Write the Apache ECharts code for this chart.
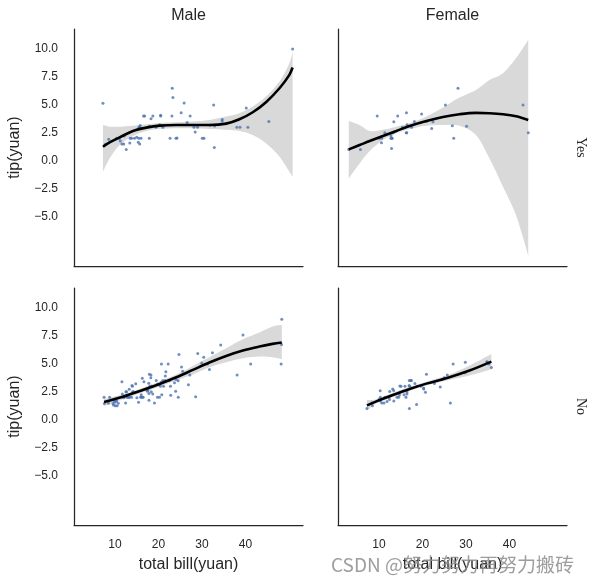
<!DOCTYPE html>
<html><head><meta charset="utf-8">
<script src="https://cdn.jsdelivr.net/npm/echarts@6/dist/echarts.min.js"></script>
<style>html,body{margin:0;padding:0;background:#fff}#c{width:597px;height:583px}</style>
</head><body><div id="c"></div>
<script>
// ---- labels / ticks ----
const colTitles = ['Male', 'Female'];
const rowTitles = ['Yes', 'No'];
const xTicks = [10, 20, 30, 40];
const yTicks = [-5, -2.5, 0, 2.5, 5, 7.5, 10];
const xLabelText = 'total bill(yuan)';
const yLabelText = 'tip(yuan)';
const watermark = 'CSDN @努力努力再努力搬砖';

// ---- scatter data: Male / smoker Yes ----
const maleYesBill = [38.01, 11.24, 20.29, 13.81, 11.02, 18.29, 15.01, 17.92, 19.44, 32.68, 28.97, 40.17, 27.28, 12.03, 21.01, 15.36, 20.49, 25.21, 16.00, 50.81, 15.81, 7.25, 31.85, 16.82, 32.90, 17.89, 14.48, 34.63, 34.65, 23.33, 45.35, 23.17, 40.55, 30.46, 23.10, 15.69, 28.44, 15.48, 16.58, 10.34, 13.51, 18.71, 20.53, 26.59, 38.73, 24.27, 30.06, 25.89, 28.15, 11.59, 7.74, 12.16, 8.58, 13.42, 24.01, 15.69, 15.53, 12.60, 32.83, 22.67];
const maleYesTip = [3.00, 1.76, 3.21, 2.00, 1.98, 3.76, 2.09, 3.08, 3.00, 5.00, 3.00, 4.73, 4.00, 1.50, 3.00, 1.64, 4.06, 4.29, 2.00, 10.00, 3.16, 5.15, 3.18, 4.00, 3.11, 2.00, 2.00, 3.55, 3.68, 5.65, 3.50, 6.50, 3.00, 2.00, 4.00, 1.50, 2.56, 2.02, 4.00, 2.00, 2.00, 4.00, 4.00, 3.41, 3.00, 2.03, 2.00, 5.16, 3.00, 1.50, 1.44, 2.20, 1.92, 1.58, 2.00, 3.00, 3.00, 1.00, 1.17, 2.00];

// ---- Female / smoker Yes ----
const femaleYesBill = [3.07, 26.86, 25.28, 5.75, 16.32, 11.35, 15.38, 44.30, 22.42, 14.31, 17.51, 10.59, 10.63, 9.60, 20.90, 18.15, 19.81, 43.11, 13.00, 12.74, 13.00, 16.40, 16.47, 12.76, 13.27, 28.17, 12.90, 30.14, 13.42, 16.27, 10.09, 22.12, 27.18];
const femaleYesTip = [1.00, 3.14, 5.00, 1.00, 4.30, 2.50, 3.00, 2.50, 3.48, 4.00, 3.00, 1.61, 2.00, 4.00, 3.50, 3.50, 4.19, 5.00, 2.00, 2.01, 2.00, 2.50, 3.23, 2.23, 2.50, 6.50, 1.10, 3.09, 3.48, 2.50, 2.00, 2.88, 2.00];

// ---- Male / smoker No ----
const maleNoBill = [10.34, 21.01, 23.68, 25.29, 8.77, 26.88, 15.04, 14.78, 10.27, 15.42, 18.43, 21.58, 16.29, 20.65, 17.92, 39.42, 19.82, 17.81, 13.37, 12.69, 21.70, 9.55, 18.35, 17.78, 24.06, 16.31, 18.69, 31.27, 16.04, 17.46, 13.94, 9.68, 30.40, 18.29, 22.23, 32.40, 28.55, 18.04, 12.54, 9.94, 25.56, 19.49, 48.27, 17.59, 20.08, 20.23, 12.02, 10.51, 27.20, 22.76, 17.29, 16.66, 15.98, 13.03, 18.28, 24.71, 21.16, 22.49, 12.46, 18.24, 14.00, 38.07, 23.95, 29.93, 11.69, 14.26, 15.95, 8.52, 22.82, 19.08, 34.30, 41.19, 9.78, 7.51, 14.07, 13.13, 17.26, 24.55, 19.77, 48.17, 16.49, 21.50, 12.66, 13.81, 24.52, 20.76, 31.71, 20.69, 7.56, 48.33, 20.45, 13.28, 11.61, 10.77, 10.07, 29.03, 17.82];
const maleNoTip = [1.66, 3.50, 3.31, 4.71, 2.00, 3.12, 1.96, 3.23, 1.71, 1.57, 3.00, 3.92, 3.71, 3.35, 4.08, 7.58, 3.18, 2.34, 2.00, 2.00, 4.30, 1.45, 2.50, 3.27, 3.60, 2.00, 2.31, 5.00, 2.24, 2.54, 3.06, 1.32, 5.60, 3.00, 5.00, 6.00, 2.05, 3.00, 2.50, 1.56, 4.34, 3.51, 6.73, 2.64, 3.15, 2.01, 1.97, 1.25, 4.00, 3.00, 2.71, 3.40, 2.03, 2.00, 4.00, 5.85, 3.00, 3.50, 1.50, 3.76, 3.00, 4.00, 2.55, 5.07, 2.31, 2.50, 2.00, 1.48, 2.18, 1.50, 6.70, 5.00, 1.73, 2.00, 2.50, 2.00, 2.74, 2.00, 2.00, 5.00, 2.00, 3.50, 2.50, 2.00, 3.48, 2.24, 4.50, 5.00, 1.44, 9.00, 3.00, 2.72, 3.39, 1.47, 1.25, 5.92, 1.75];

// ---- Female / smoker No ----
const femaleNoBill = [16.99, 24.59, 35.26, 14.83, 10.33, 16.97, 20.29, 15.77, 19.65, 15.06, 20.69, 16.93, 10.29, 34.81, 26.41, 16.45, 17.07, 14.73, 10.07, 34.83, 22.75, 20.92, 7.25, 25.71, 17.31, 10.65, 12.43, 24.08, 13.42, 12.48, 29.80, 14.52, 11.38, 20.27, 11.17, 12.26, 18.26, 8.51, 10.33, 14.15, 13.16, 17.47, 27.05, 16.43, 8.35, 18.64, 11.87, 29.85, 25.00, 13.39, 16.21, 15.98, 35.83, 18.78];
const femaleNoTip = [1.01, 3.61, 5.00, 3.02, 1.67, 3.50, 2.75, 2.23, 3.00, 3.00, 2.45, 3.07, 2.60, 5.20, 1.50, 2.47, 3.00, 2.20, 1.83, 5.17, 3.25, 4.08, 1.00, 4.00, 3.50, 1.50, 1.80, 2.92, 1.68, 2.52, 4.20, 2.00, 2.00, 2.83, 1.50, 2.00, 3.25, 1.25, 2.00, 2.00, 2.75, 3.50, 5.00, 2.30, 1.50, 1.36, 1.63, 5.14, 3.75, 2.61, 2.00, 3.00, 4.67, 3.00];

// ---- regression curves and CI bands ----
const maleYesFitX = [7.25, 8.78, 11.08, 14.14, 17.2, 20.25, 24.1, 27.9, 31.7, 35.55, 38.6, 41.66, 44.7, 47.8, 50.07, 50.81];
const maleYesFit  = [1.25, 1.64, 2.09, 2.66, 2.96, 3.14, 3.20, 3.20, 3.20, 3.32, 3.71, 4.34, 5.24, 6.49, 7.69, 8.35];
const maleYesHigh = [3.20, 3.05, 3.05, 3.14, 3.26, 3.38, 3.44, 3.50, 3.65, 3.95, 4.25, 4.85, 5.74, 7.09, 8.74, 9.79];
const maleYesLow  = [-0.99, 0.20, 1.40, 2.21, 2.66, 2.84, 2.90, 2.90, 2.84, 2.78, 2.66, 2.30, 1.55, 0.35, -0.99, -1.44];

const femaleYesFitX = [3.07, 5.57, 7.87, 10.9, 14.0, 17.04, 20.9, 24.7, 28.5, 32.3, 35.4, 38.5, 41.5, 44.3];
const femaleYesFit  = [1.01, 1.40, 1.76, 2.21, 2.66, 3.11, 3.56, 3.92, 4.16, 4.28, 4.25, 4.16, 3.98, 3.65];
const femaleYesHigh = [3.56, 3.20, 2.66, 2.78, 3.05, 3.35, 3.95, 4.76, 5.65, 6.34, 7.24, 7.84, 9.19, 10.84];
const femaleYesLow  = [-1.59, -0.25, 0.86, 1.85, 2.45, 2.84, 3.14, 3.20, 3.14, 2.30, 0.20, -2.34, -4.89, -8.48];

const maleNoFitX = [7.51, 11.84, 16.4, 20.25, 24.1, 27.9, 31.7, 35.55, 39.4, 43.2, 46.2, 48.33];
const maleNoFit  = [1.58, 2.06, 2.66, 3.20, 3.80, 4.46, 5.12, 5.71, 6.19, 6.55, 6.79, 6.91];
const maleNoHigh = [1.85, 2.27, 2.87, 3.42, 4.04, 4.82, 5.59, 6.40, 7.21, 7.81, 8.35, 8.50];
const maleNoLow  = [1.22, 1.82, 2.45, 2.98, 3.50, 4.04, 4.70, 5.15, 5.50, 5.65, 5.59, 5.41];

const femaleNoFitX = [7.25, 9.4, 13.2, 17.04, 20.9, 26.2, 30.8, 35.83];
const femaleNoFit  = [1.28, 1.64, 2.21, 2.75, 3.23, 3.80, 4.40, 5.20];
const femaleNoHigh = [1.76, 1.84, 2.41, 2.92, 3.40, 4.05, 4.85, 5.89];
const femaleNoLow  = [0.80, 1.44, 2.01, 2.58, 3.06, 3.55, 3.95, 4.52];

// ---- layout ----
const panels = [
  {bill: maleYesBill, tip: maleYesTip, fx: maleYesFitX, fit: maleYesFit, lo: maleYesLow, hi: maleYesHigh},
  {bill: femaleYesBill, tip: femaleYesTip, fx: femaleYesFitX, fit: femaleYesFit, lo: femaleYesLow, hi: femaleYesHigh},
  {bill: maleNoBill, tip: maleNoTip, fx: maleNoFitX, fit: maleNoFit, lo: maleNoLow, hi: maleNoHigh},
  {bill: femaleNoBill, tip: femaleNoTip, fx: femaleNoFitX, fit: femaleNoFit, lo: femaleNoLow, hi: femaleNoHigh}
];
const LEFTS = [74, 338], TOPS = [29, 288], GW = 229, GH = 237;
const INK = '#262626';
const SANS = '"Liberation Sans", Arial, sans-serif';

const fmtY = v => (v < 0 ? '\u2212' + (-v).toFixed(1) : v.toFixed(1));

// Catmull-Rom -> cubic bezier path through pixel points (drawing helper only)
function splineSegs(pts) {
  let d = '';
  for (let k = 0; k < pts.length - 1; k++) {
    const p0 = pts[Math.max(k - 1, 0)], p1 = pts[k], p2 = pts[k + 1], p3 = pts[Math.min(k + 2, pts.length - 1)];
    const c1 = [p1[0] + (p2[0] - p0[0]) / 6, p1[1] + (p2[1] - p0[1]) / 6];
    const c2 = [p2[0] - (p3[0] - p1[0]) / 6, p2[1] - (p3[1] - p1[1]) / 6];
    d += ' C' + c1[0] + ' ' + c1[1] + ' ' + c2[0] + ' ' + c2[1] + ' ' + p2[0] + ' ' + p2[1];
  }
  return d;
}

const grids = [], xAxes = [], yAxes = [], series = [];
panels.forEach((p, i) => {
  const r = Math.floor(i / 2), c = i % 2;
  grids.push({left: LEFTS[c], top: TOPS[r], width: GW, height: GH});
  xAxes.push({
    gridIndex: i, type: 'value', min: 0.6, max: 53.2, z: 10,
    axisLine: {show: true, onZero: false, lineStyle: {color: INK, width: 1.25}},
    axisTick: {show: false}, splitLine: {show: false},
    axisLabel: {show: r === 1, customValues: xTicks, color: INK, fontSize: 12, margin: 14, fontFamily: SANS}
  });
  yAxes.push({
    gridIndex: i, type: 'value', min: -9.44, max: 11.8, z: 10,
    axisLine: {show: true, onZero: false, lineStyle: {color: INK, width: 1.25}},
    axisTick: {show: false}, splitLine: {show: false},
    axisLabel: {show: c === 0, customValues: yTicks, formatter: fmtY, color: INK, fontSize: 12, margin: 16, fontFamily: SANS}
  });
  // CI band as one filled region between the lower and upper bounds
  series.push({
    type: 'custom', xAxisIndex: i, yAxisIndex: i, silent: true, z: 1,
    data: p.fx.map((x, k) => [x, p.lo[k], p.hi[k]]),
    encode: {x: 0, y: [1, 2]},
    renderItem: function (params, api) {
      if (params.dataIndex !== 0) return null;
      const n = p.fx.length;
      const up = [], dn = [];
      for (let k = 0; k < n; k++) {
        up.push(api.coord([api.value(0, k), api.value(2, k)]));
        dn.push(api.coord([api.value(0, k), api.value(1, k)]));
      }
      dn.reverse();
      const d = 'M' + up[0][0] + ' ' + up[0][1] + splineSegs(up) +
                ' L' + dn[0][0] + ' ' + dn[0][1] + splineSegs(dn) + ' Z';
      return {type: 'path', shape: {pathData: d}, style: {fill: '#d9d9d9', stroke: null}};
    }
  });
  series.push({
    type: 'scatter', xAxisIndex: i, yAxisIndex: i,
    data: p.bill.map((b, k) => [b, p.tip[k]]), symbolSize: 3, silent: true,
    itemStyle: {color: '#4c72b0'}, z: 2
  });
  series.push({
    type: 'line', xAxisIndex: i, yAxisIndex: i,
    data: p.fx.map((x, k) => [x, p.fit[k]]), smooth: 0.35, symbol: 'none', silent: true,
    lineStyle: {color: '#000', width: 2.6}, z: 3
  });
});

const graphics = [];
colTitles.forEach((t, c) => graphics.push({type: 'text', z: 20,
  x: LEFTS[c] + GW / 2, y: 16,
  style: {text: t, fill: INK, font: '16px ' + SANS, textAlign: 'center', textVerticalAlign: 'middle'}}));
rowTitles.forEach((t, r) => graphics.push({type: 'text', z: 20,
  x: 581, y: TOPS[r] + GH / 2, rotation: -Math.PI / 2,
  style: {text: t, fill: INK, font: '14px "Liberation Serif", "Times New Roman", serif', textAlign: 'center', textVerticalAlign: 'middle'}}));
TOPS.forEach(tp => graphics.push({type: 'text', z: 20,
  x: 15, y: tp + GH / 2, rotation: Math.PI / 2,
  style: {text: yLabelText, fill: INK, font: '16px ' + SANS, textAlign: 'center', textVerticalAlign: 'middle'}}));
LEFTS.forEach(lf => graphics.push({type: 'text', z: 20,
  x: lf + GW / 2, y: 565,
  style: {text: xLabelText, fill: INK, font: '16px ' + SANS, textAlign: 'center', textVerticalAlign: 'middle'}}));
graphics.push({type: 'text', z: 30, x: 331, y: 565,
  style: {text: watermark, fill: 'rgba(140,140,140,0.85)', font: '19px "Noto Sans CJK SC", sans-serif', textAlign: 'left', textVerticalAlign: 'middle'}});

const chart = echarts.init(document.getElementById('c'), null, {renderer: 'canvas'});
chart.setOption({
  backgroundColor: '#fff', animation: false,
  grid: grids, xAxis: xAxes, yAxis: yAxes, series: series, graphic: graphics
});
</script></body></html>
